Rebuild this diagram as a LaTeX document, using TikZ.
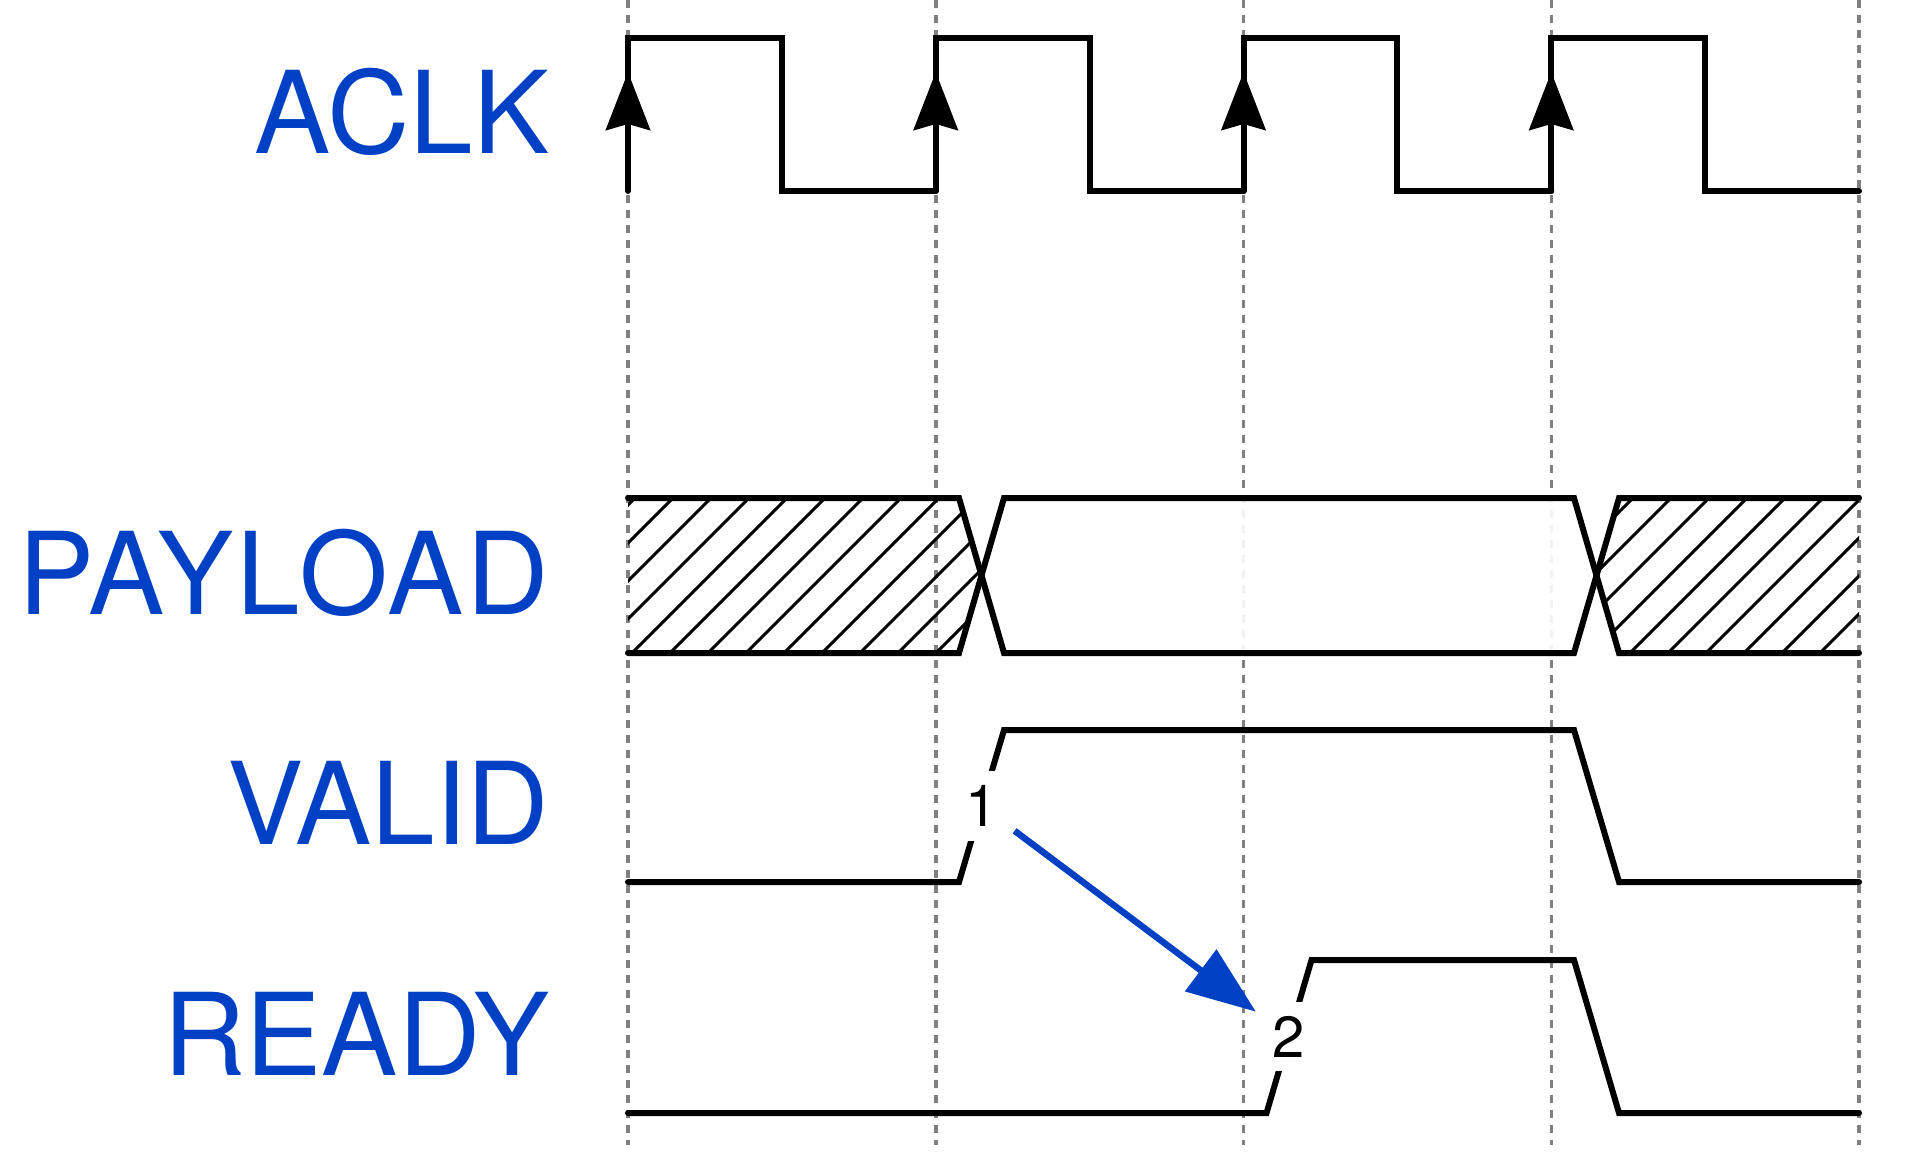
\documentclass[tikz,border=0pt]{standalone}
\usepackage{fontspec}
\setmainfont{TeX Gyre Heros}
\usetikzlibrary{arrows.meta}
\definecolor{sigblue}{RGB}{0,64,196}
\tikzset{
  wave/.style={line width=0.06cm, line cap=round, line join=miter},
  grid line/.style={line width=0.035cm, color=black!50, dash pattern=on 0.08cm off 0.07cm},
  hatch/.style={line width=0.03cm},
  signame/.style={anchor=base east, inner sep=0pt, text=sigblue, font=\fontsize{32.5pt}{39pt}\selectfont},
  evnum/.style={fill=white, inner sep=0.14cm, font=\fontsize{16.5pt}{20pt}\selectfont},
  clkedge/.style={line width=0.06cm, -{Stealth[length=5.8mm, width=4.4mm, inset=0.6mm]}},
  handshake/.style={line width=0.065cm, color=sigblue, -{Triangle[length=6.9mm, width=5.1mm]}}
}
\begin{document}
\begin{tikzpicture}
   \useasboundingbox (0, 0) rectangle (19.2, -11.52);
   % \draw[help lines] (0, 0) grid (19, -11);
   \foreach \k in {0, ..., 4}
      \draw [grid line] ({6.28 + 3.0775*\k}, 0) -- ({6.28 + 3.0775*\k}, -11.45);

   % signal names
   \node [signame] (aclk) at (5.50, -1.54) {ACLK};
   \node [signame] (payload) at (5.50, -6.14) {\addfontfeatures{LetterSpace=3}PAYLOAD};
   \node [signame] (valid) at (5.50, -8.44) {VALID};
   \node [signame] (ready) at (5.50, -10.75) {READY};

   % ACLK
   \foreach \k in {0, ..., 3} {
      \draw [wave] ({6.28 + 3.0775*\k}, -1.91) |- ({7.819 + 3.0775*\k}, -0.38) |- ({9.3575 + 3.0775*\k}, -1.91);
      \draw [clkedge] ({6.28 + 3.0775*\k}, -1.91) -- ({6.28 + 3.0775*\k}, -0.72);
   }

   % PAYLOAD
   \fill [white, opacity=0.9] (9.815, -5.755) -- (10.04, -4.98) -- (15.74, -4.98) -- (15.965, -5.755) -- (15.74, -6.53) -- (10.04, -6.53) -- cycle;
   \begin{scope}
      \clip (6.28, -4.98) -- (9.59, -4.98) -- (9.815, -5.755) -- (9.59, -6.53) -- (6.28, -6.53) -- cycle;
      \foreach \i in {-5, ..., 9}
         \draw [hatch] ({6.70 + 0.38*\i}, -6.53) -- ++(1.8, 1.8);
   \end{scope}
   \begin{scope}
      \clip (18.59, -4.98) -- (16.19, -4.98) -- (15.965, -5.755) -- (16.19, -6.53) -- (18.59, -6.53) -- cycle;
      \foreach \i in {-5, ..., 7}
         \draw [hatch] ({16.30 + 0.38*\i}, -6.53) -- ++(1.8, 1.8);
   \end{scope}
   \draw [wave] (6.28, -4.98) -- (9.59, -4.98) -- (10.04, -6.53) -- (15.74, -6.53) -- (16.19, -4.98) -- (18.59, -4.98);
   \draw [wave] (6.28, -6.53) -- (9.59, -6.53) -- (10.04, -4.98) -- (15.74, -4.98) -- (16.19, -6.53) -- (18.59, -6.53);

   % VALID and READY
   \draw [wave] (6.28, -8.82) -- (9.59, -8.82) -- node [evnum] (one) {1} (10.04, -7.30) -- (15.74, -7.30) -- (16.19, -8.82) -- (18.59, -8.82);
   \draw [wave] (6.28, -11.13) -- (12.665, -11.13) -- node [evnum] (two) {2} (13.115, -9.60) -- (15.74, -9.60) -- (16.19, -11.13) -- (18.59, -11.13);

   \draw [handshake] (one) -- (two);
\end{tikzpicture}
\end{document}
